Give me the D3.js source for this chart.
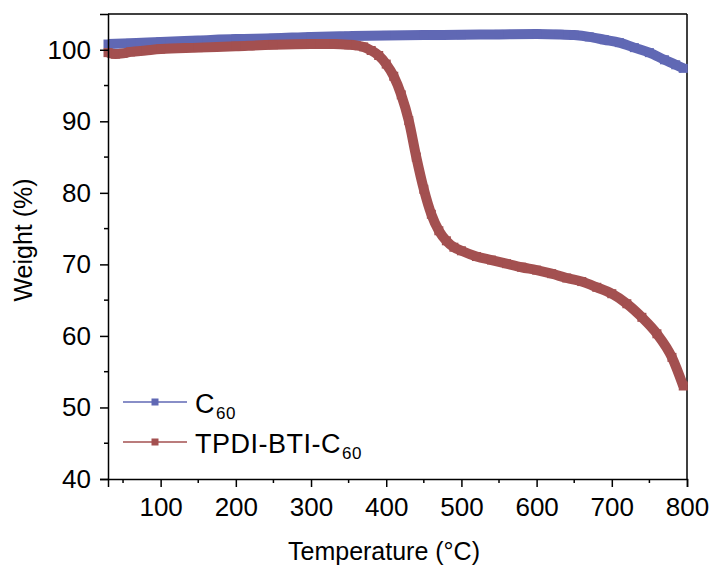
<!DOCTYPE html>
<html>
<head>
<meta charset="utf-8">
<script src="https://cdn.jsdelivr.net/npm/d3@7"></script>
<style>
  html, body { margin: 0; padding: 0; background: #fff; }
  svg { display: block; font-family: "Liberation Sans", Arial, sans-serif; }
</style>
</head>
<body>
<svg id="chart" width="715" height="572"></svg>
<script>
// ---- data ----
const c60Temp   = [30, 60, 100, 150, 200, 250, 300, 350, 400, 450, 500, 550, 600, 630, 650, 670, 690, 710, 730, 750, 770, 785, 795];
const c60Weight = [100.8, 100.9, 101.1, 101.3, 101.5, 101.6, 101.8, 101.9, 102.0, 102.05, 102.1, 102.15, 102.2, 102.15, 102.05, 101.8, 101.4, 101.0, 100.3, 99.6, 98.6, 97.9, 97.4];

const tpdiTemp   = [30, 40, 50, 60, 80, 100, 150, 200, 250, 300, 330, 350, 360, 370, 380, 390, 400, 410, 420, 430, 440, 450, 460, 470, 480, 490, 500, 520, 540, 560, 580, 600, 620, 640, 660, 680, 700, 720, 740, 760, 780, 795];
const tpdiWeight = [99.6, 99.4, 99.5, 99.7, 99.9, 100.1, 100.3, 100.5, 100.7, 100.8, 100.8, 100.7, 100.6, 100.4, 99.9, 99.2, 98.0, 96.3, 93.7, 90.1, 85.0, 80.5, 77.0, 74.7, 73.3, 72.4, 71.9, 71.1, 70.6, 70.1, 69.6, 69.2, 68.7, 68.1, 67.6, 66.8, 65.9, 64.5, 62.6, 60.3, 57.0, 53.0];

const xTicks = [100, 200, 300, 400, 500, 600, 700, 800];
const xMinorTicks = [50, 150, 250, 350, 450, 550, 650, 750];
const yTicks = [40, 50, 60, 70, 80, 90, 100];
const yMinorTicks = [45, 55, 65, 75, 85, 95];

const seriesNames = ["C", "TPDI-BTI-C"];
const seriesSubs = ["60", "60"];
const seriesColors = ["#6068b4", "#a35050"];

// ---- layout ----
const svg = d3.select("#chart");
const m = { left: 108, top: 14, right: 687, bottom: 479 };
const x = d3.scaleLinear().domain([30, 800]).range([m.left, m.right]);
const y = d3.scaleLinear().domain([40, 105]).range([m.bottom, m.top]);

// frame (top and right)
svg.append("line").attr("x1", m.left).attr("x2", m.right).attr("y1", m.top).attr("y2", m.top)
  .attr("stroke", "#000").attr("stroke-width", 1.5);
svg.append("line").attr("x1", m.right).attr("x2", m.right).attr("y1", m.top).attr("y2", m.bottom)
  .attr("stroke", "#000").attr("stroke-width", 1.5);

// data series
const series = [
  { t: c60Temp, w: c60Weight, color: seriesColors[0] },
  { t: tpdiTemp, w: tpdiWeight, color: seriesColors[1] }
];
const line = d3.line().x(d => x(d[0])).y(d => y(d[1])).curve(d3.curveMonotoneX);
const ms = 9;
series.forEach(s => {
  const pts = s.t.map((t, i) => [t, s.w[i]]);
  svg.append("path").datum(pts).attr("d", line)
    .attr("fill", "none").attr("stroke", s.color).attr("stroke-width", 10)
    .attr("stroke-linejoin", "round");
  svg.append("g").selectAll("rect").data(pts).join("rect")
    .attr("x", d => x(d[0]) - ms / 2).attr("y", d => y(d[1]) - ms / 2)
    .attr("width", ms).attr("height", ms).attr("fill", s.color);
});

// axes
const fs = 26;
const xAxis = d3.axisBottom(x).tickValues(xTicks).tickSize(8).tickPadding(11).tickFormat(d3.format("d"));
const gx = svg.append("g").attr("transform", `translate(0,${m.bottom})`).call(xAxis);
gx.append("g").selectAll("line").data(xMinorTicks).join("line")
  .attr("x1", d => x(d)).attr("x2", d => x(d)).attr("y1", 0).attr("y2", 4).attr("stroke", "#000").attr("stroke-width", 1.5);

const yAxis = d3.axisLeft(y).tickValues(yTicks).tickSize(8).tickPadding(9).tickFormat(d3.format("d"));
const gy = svg.append("g").attr("transform", `translate(${m.left},0)`).call(yAxis);
gy.append("g").selectAll("line").data(yMinorTicks).join("line")
  .attr("x1", 0).attr("x2", -4).attr("y1", d => y(d)).attr("y2", d => y(d)).attr("stroke", "#000").attr("stroke-width", 1.5);

[gx, gy].forEach(g => {
  g.select(".domain").attr("stroke", "#000").attr("stroke-width", 1.5);
  g.selectAll(".tick line").attr("stroke", "#000").attr("stroke-width", 1.5);
  g.selectAll(".tick text").attr("fill", "#000").style("font-size", fs + "px")
    .style("font-family", "'Liberation Sans', Arial, sans-serif");
});

// axis titles
svg.append("text").attr("x", 384).attr("y", 560).attr("text-anchor", "middle")
  .style("font-size", "25px").text("Temperature (°C)");
svg.append("text").attr("transform", "translate(32,240) rotate(-90)").attr("text-anchor", "middle")
  .style("font-size", "25px").text("Weight (%)");

// legend
const legY = [402, 442];
seriesNames.forEach((name, i) => {
  const g = svg.append("g");
  g.append("line").attr("x1", 123).attr("x2", 187).attr("y1", legY[i]).attr("y2", legY[i])
    .attr("stroke", seriesColors[i]).attr("stroke-width", 1.5);
  g.append("rect").attr("x", 155 - 3.5).attr("y", legY[i] - 3.5).attr("width", 7).attr("height", 7)
    .attr("fill", seriesColors[i]);
  const t = g.append("text").attr("x", 195).attr("y", legY[i] + 11)
    .style("font-size", "27px").style("letter-spacing", "0.5px");
  t.append("tspan").text(name);
  t.append("tspan").attr("dy", 6).attr("dx", 1).style("font-size", "17px").style("letter-spacing", "0.5px").text(seriesSubs[i]);
});
</script>
</body>
</html>
